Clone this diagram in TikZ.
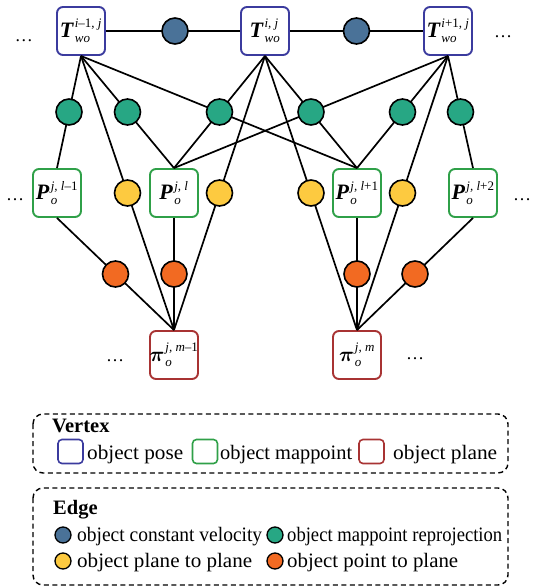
\documentclass[tikz,border=0pt]{standalone}
\usepackage{amsmath}
\usepackage{graphicx}
\usepackage{fontspec}
\setmainfont{Liberation Serif}
\DeclareMathSizes{22}{22}{13}{10}

\definecolor{poseblue}{HTML}{3B3B9E}
\definecolor{ptgreen}{HTML}{2FA048}
\definecolor{planered}{HTML}{A83333}
\definecolor{cvblue}{HTML}{4A7298}
\definecolor{rpgreen}{HTML}{27A784}
\definecolor{ppyellow}{HTML}{FDCA40}
\definecolor{ptorange}{HTML}{F26A22}

% vertex label: bold italic symbol with superscript and subscript
\newcommand{\vlab}[3]{\makebox[0pt]{$\text{\bfseries\itshape #1\kern1.5pt}^{\text{#2}}_{\text{\itshape #3}}$}}
% plane label: bold math pi (with capital height) with superscript and subscript
\newcommand{\plab}[2]{\makebox[0pt]{${\boldsymbol{\pi}\vphantom{\text{\bfseries T}}\kern1pt}^{\text{#1}}_{\text{\itshape #2}}$}}
% legend text stretched to a given width
\newcommand{\legw}[2]{\resizebox{#1}{\height}{#2}}

\tikzset{
  vbox/.style={draw, line width=1.9pt, rounded corners=6pt, minimum width=48pt,
    minimum height=48pt, inner sep=0pt, fill=white, font=\fontsize{22}{22}\selectfont},
  pose/.style={vbox, draw=poseblue},
  mpt/.style={vbox, draw=ptgreen},
  pln/.style={vbox, draw=planered},
  fac/.style={circle, draw=black, line width=1.6pt, minimum size=26pt, inner sep=0pt},
  cvf/.style={fac, fill=cvblue},
  rpf/.style={fac, fill=rpgreen},
  ppf/.style={fac, fill=ppyellow},
  otp/.style={fac, fill=ptorange},
  link/.style={line width=1.7pt},
  ell/.style={anchor=base, inner sep=0pt, font=\fontsize{18}{18}\selectfont},
  legbox/.style={draw, line width=1.4pt, dash pattern=on 5pt off 3.5pt, rounded corners=10pt},
  legtxt/.style={anchor=base west, inner sep=0pt, font=\fontsize{20.5}{22}\selectfont},
  leghead/.style={anchor=base west, inner sep=0pt, font=\fontsize{20.5}{22}\selectfont\bfseries},
  legsq/.style={draw, line width=1.6pt, rounded corners=4pt, minimum width=25pt,
    minimum height=24pt, inner sep=0pt},
  legdot/.style={circle, draw=black, line width=1.3pt, minimum size=16pt, inner sep=0pt}
}

\begin{document}
\begin{tikzpicture}[x=1pt, y=-1pt]
\useasboundingbox (0,0) rectangle (534,587);

% vertices
\node[pose] (T1) at (81,31)  {\vlab{T}{\itshape i\upshape–1, \itshape j}{wo}};
\node[pose] (T2) at (265,31) {\vlab{T}{\itshape i, j}{wo}};
\node[pose] (T3) at (448,31) {\vlab{T}{\itshape i\upshape+1, \itshape j}{wo}};

\node[mpt] (P1) at (57,193)  {\vlab{P}{\itshape j, l\upshape–1}{o}};
\node[mpt] (P2) at (174,193) {\vlab{P}{\itshape j, l}{o}};
\node[mpt] (P3) at (357,193) {\vlab{P}{\itshape j, l\upshape+1}{o}};
\node[mpt] (P4) at (473,193) {\vlab{P}{\itshape j, l\upshape+2}{o}};

\node[pln] (Q1) at (174,355) {\plab{\itshape j, m\upshape–1}{o}};
\node[pln] (Q2) at (357,355) {\plab{\itshape j, m}{o}};

% connectors (drawn first, factor circles go on top)
\draw[link] (T1.east) -- coordinate (cv1) (T2.west);
\draw[link] (T2.east) -- coordinate (cv2) (T3.west);

\draw[link] (T1.south) -- coordinate (rp1) (P1.north);
\draw[link] (T1.south) -- coordinate (rp2) (P2.north);
\draw[link] (T1.south) -- (P3.north);
\draw[link] (T2.south) -- coordinate (rp3) (P2.north);
\draw[link] (T2.south) -- coordinate (rp4) (P3.north);
\draw[link] (T3.south) -- (P2.north);
\draw[link] (T3.south) -- coordinate (rp5) (P3.north);
\draw[link] (T3.south) -- coordinate (rp6) (P4.north);

\draw[link] (T1.south) -- coordinate (pp1) (Q1.north);
\draw[link] (T2.south) -- coordinate (pp2) (Q1.north);
\draw[link] (T2.south) -- coordinate (pp3) (Q2.north);
\draw[link] (T3.south) -- coordinate (pp4) (Q2.north);

\draw[link] (P1.south) -- coordinate (op1) (Q1.north);
\draw[link] (P2.south) -- coordinate (op2) (Q1.north);
\draw[link] (P3.south) -- coordinate (op3) (Q2.north);
\draw[link] (P4.south) -- coordinate (op4) (Q2.north);

% factor circles
\node[cvf] (C1) at ([xshift=2pt]cv1) {};
\node[cvf] (C2) at (cv2) {};
\foreach \k in {1,...,6} { \node[rpf] (R\k) at (rp\k) {}; }
\foreach \k in {1,...,4} { \node[ppf] (Y\k) at (pp\k) {}; }
\foreach \k in {1,...,4} { \node[otp] (O\k) at (op\k) {}; }

% continuation dots
\node[ell] (d1) at (24,41)  {…};
\node[ell] (d2) at (503,37) {…};
\node[ell] (d3) at (15,200) {…};
\node[ell] (d4) at (522,200) {…};
\node[ell] (d5) at (115,361) {…};
\node[ell] (d6) at (415,359) {…};

% legend: vertices
\draw[legbox] (33,414) rectangle (508,473);
\node[leghead] (vh) at (52,432) {Vertex};
\node[legsq, draw=poseblue]  (ls1) at (70.5,451.5) {};
\node[legtxt] (lt1) at (87,459)  {\legw{96pt}{object pose}};
\node[legsq, draw=ptgreen]   (ls2) at (205,451.5) {};
\node[legtxt] (lt2) at (220,459) {\legw{132pt}{object mappoint}};
\node[legsq, draw=planered]  (ls3) at (371.5,451.5) {};
\node[legtxt] (lt3) at (393,459) {\legw{104pt}{object plane}};

% legend: edges
\draw[legbox] (33,488) rectangle (508,585);
\node[leghead] (eh) at (53,514) {Edge};
\node[legdot, fill=cvblue]   (ld1) at (63,535)  {};
\node[legtxt] (le1) at (77,541)  {\legw{185pt}{object constant velocity}};
\node[legdot, fill=rpgreen]  (ld2) at (275,535) {};
\node[legtxt] (le2) at (287,541) {\legw{215pt}{object mappoint reprojection}};
\node[legdot, fill=ppyellow] (ld3) at (63,561)  {};
\node[legtxt] (le3) at (77,567)  {\legw{175pt}{object plane to plane}};
\node[legdot, fill=ptorange] (ld4) at (275,561) {};
\node[legtxt] (le4) at (287,567) {\legw{171pt}{object point to plane}};
\end{tikzpicture}
\end{document}
